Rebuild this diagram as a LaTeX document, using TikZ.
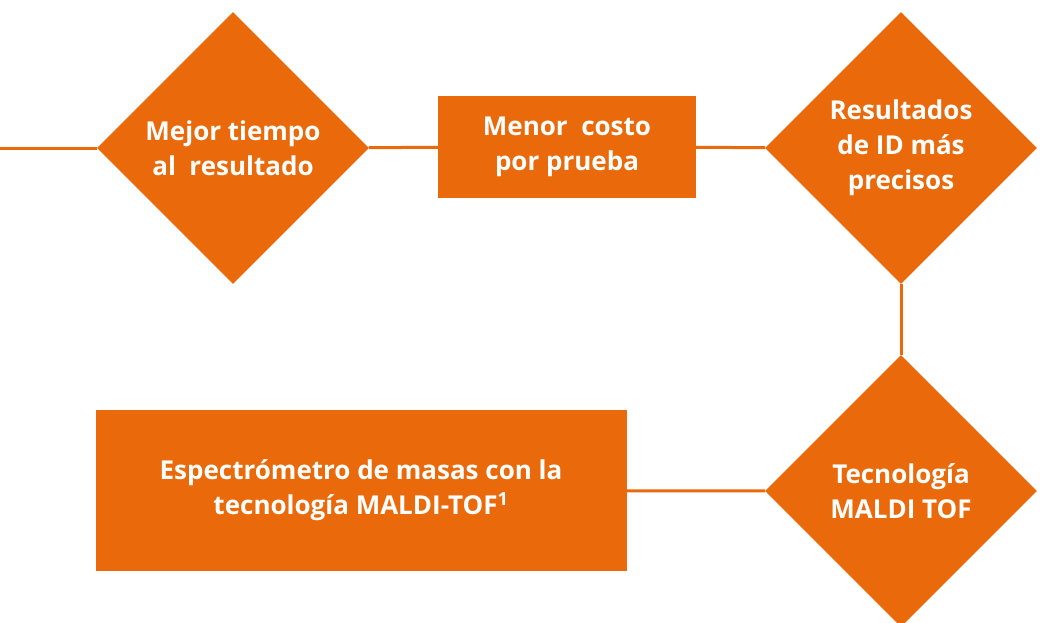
\documentclass[tikz,border=0pt]{standalone}
\usepackage{fontspec}
\setmainfont{Open Sans}
\usetikzlibrary{shapes.geometric}
\definecolor{naranja}{HTML}{EA6A0B}
\tikzset{
  texto/.style={text=white, align=center, font={\fontsize{26}{35}\selectfont\bfseries}},
  rombo/.style={texto, diamond, fill=naranja, minimum width=272pt, minimum height=272pt, inner sep=0pt},
  caja/.style={texto, rectangle, fill=naranja, inner sep=0pt},
  enlace/.style={naranja, line width=3pt}
}

\begin{document}
\begin{tikzpicture}[x=1pt,y=-1pt]
                \clip (0,0) rectangle (1043,622);
                \coordinate (inicio) at (0,148);
                \node[rombo] (tiempo) at (233,148) {Mejor tiempo\\al~~resultado};
                \node[caja, minimum width=258pt, minimum height=102pt] (costo) at (567,147) {Menor~~costo\\por prueba};
                \node[rombo] (precisos) at (901,148) {Resultados\\de ID más\\precisos};
                \node[rombo] (maldi) at (901,491) {Tecnología\\MALDI TOF};
                \node[caja, minimum width=531pt, minimum height=161pt] (espectro) at (361,490.5) {Espectrómetro de masas con la\\tecnología MALDI-TOF\textsuperscript{1}};
                \draw[enlace] (inicio) -- (tiempo);
                \draw[enlace] (tiempo) -- (costo);
                \draw[enlace] (costo) -- (precisos);
                \draw[enlace] (precisos) -- (maldi);
                \draw[enlace] (espectro) -- (maldi);
            \end{tikzpicture}
\end{document}
